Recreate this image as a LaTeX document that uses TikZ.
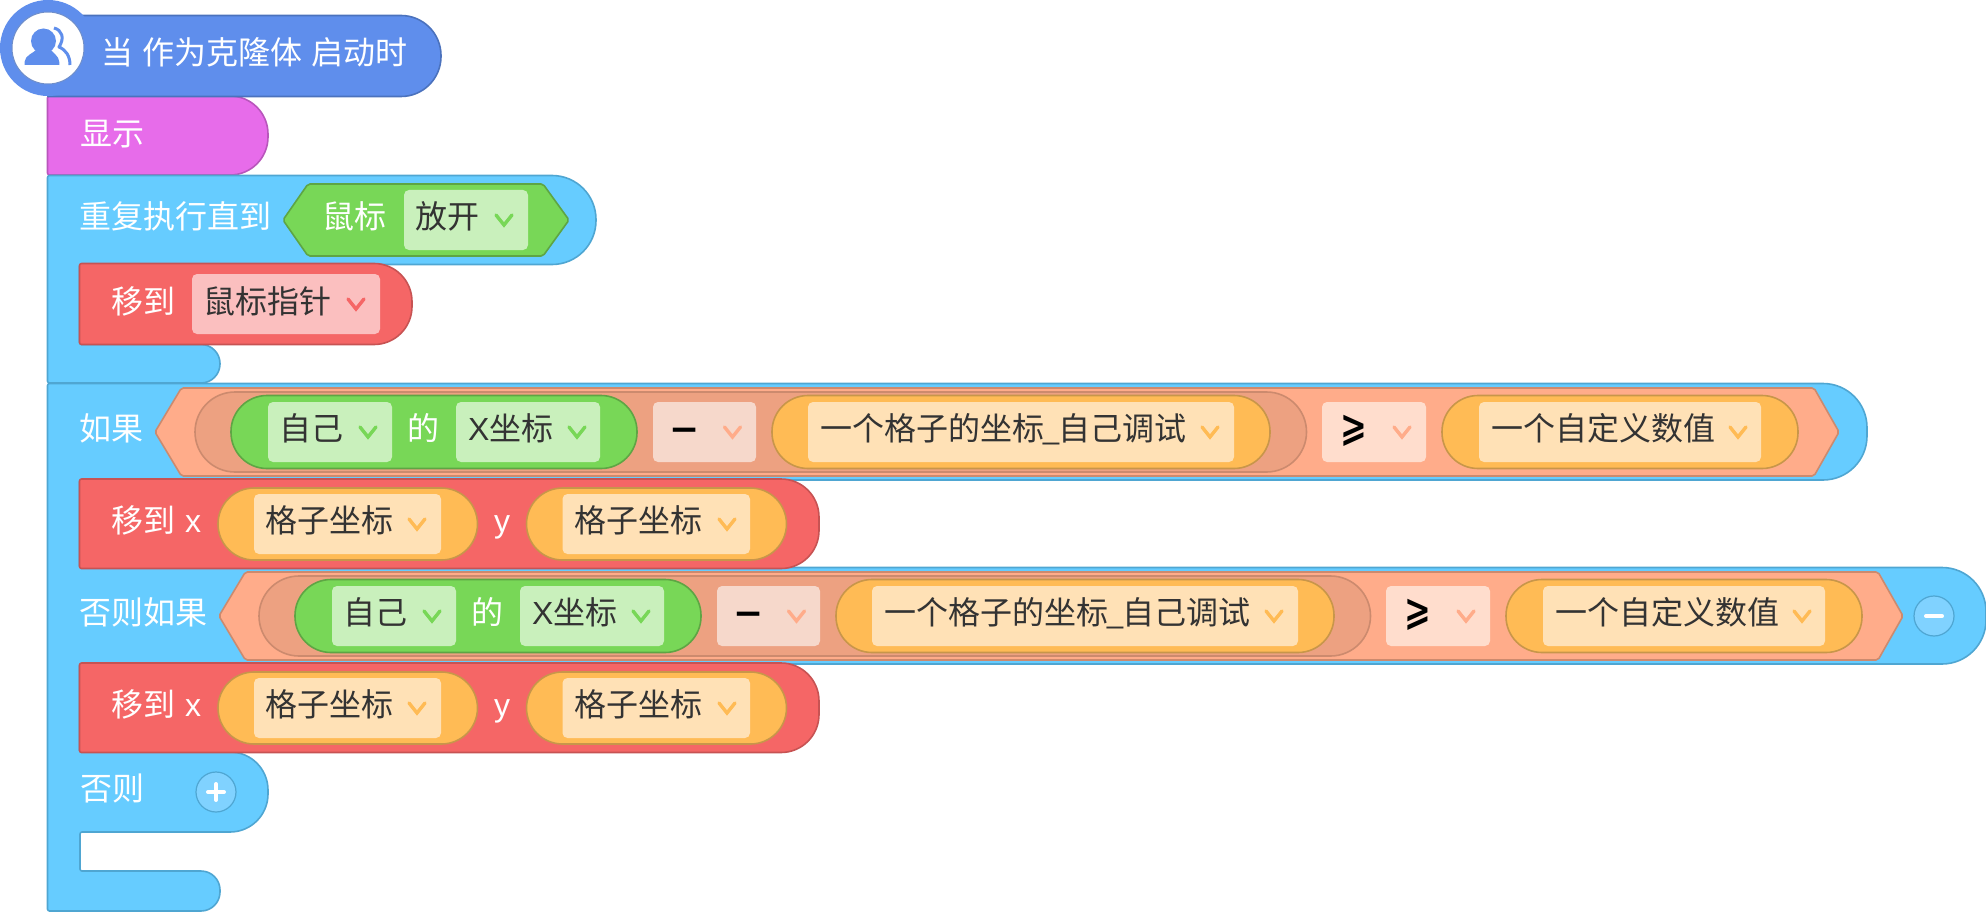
\documentclass[tikz,border=0pt]{standalone}
\usepackage{fontspec}
\setmainfont{Liberation Sans}
\newfontfamily\cjk{Noto Sans CJK SC}
\newfontfamily\symb{DejaVu Sans}
\usetikzlibrary{arrows.meta,positioning}
\definecolor{hatblue}{HTML}{5F8EEC}
\definecolor{hatline}{HTML}{4B72BD}
\definecolor{looksfill}{HTML}{E76CEA}
\definecolor{looksline}{HTML}{B956BC}
\definecolor{ctrlfill}{HTML}{66CCFF}
\definecolor{ctrlline}{HTML}{4FA6D2}
\definecolor{ctrlbtn}{HTML}{80D2FF}
\definecolor{movefill}{HTML}{F56666}
\definecolor{moveline}{HTML}{C75353}
\definecolor{movebox}{HTML}{FBBFBF}
\definecolor{sensefill}{HTML}{78D757}
\definecolor{senseline}{HTML}{5EA544}
\definecolor{sensebox}{HTML}{C9F0BC}
\definecolor{opfill}{HTML}{FFAC8A}
\definecolor{opline}{HTML}{CC8A6E}
\definecolor{opinner}{HTML}{EDA181}
\definecolor{opbox}{HTML}{FFDDCD}
\definecolor{opboxin}{HTML}{F6D8CB}
\definecolor{varfill}{HTML}{FFBB55}
\definecolor{varline}{HTML}{C8964A}
\definecolor{varbox}{HTML}{FFE1B6}
\definecolor{valtext}{HTML}{333333}
\newcommand\chev[3]{\draw[chevron,#3] (#1-8,#2-5) -- (#1,#2+5) -- (#1+8,#2-5);}
\begin{document}
\begin{tikzpicture}[x=1pt,y=-1pt,line join=round,
    block/.style={line width=1.6pt},
    pill/.style={line width=1.6pt,rounded corners=36pt},
    dropbox/.style={rounded corners=5pt},
    chevron/.style={line width=3.4pt,line cap=round,line join=miter},
    lbl/.style={anchor=base west,inner sep=0pt,text=white,font=\fontsize{32}{36}\selectfont\cjk},
    val/.style={lbl,text=valtext},
    opsign/.style={inner sep=0pt,text=black,font=\fontsize{36}{40}\selectfont\symb\bfseries}]
  \useasboundingbox (0,0) rectangle (1986,912);

  \draw[block,fill=looksfill,draw=looksline] [rounded corners=2pt] (47.5,96) -- (60,96)
    [rounded corners=38pt] -- (268,96) -- (268,175) [rounded corners=2pt] -- (47.5,175) -- cycle;

  \draw[block,fill=hatblue,draw=hatline] (48,15.5) [rounded corners=40pt] -- (441,15.5)
    -- (441,96.5) [sharp corners] -- (48,96.5) -- cycle;
  \fill[hatblue] (48,48) circle (48);
  \draw[fill=white,draw=hatline!80,line width=1pt] (48,48) circle (36);
  \fill[hatblue] (43.5,41) circle (12.5);
  \fill[hatblue] (24.5,65) -- (24.5,62) .. controls (25,55) and (34,53) .. (37,49)
    -- (50,49) .. controls (53,53) and (59,56) .. (59.3,62) -- (59.3,65) -- cycle;
  \draw[hatblue,line width=3pt] (54,28) .. controls (62,30) and (65,38) .. (59,47)
    .. controls (66,50) and (70,56) .. (70,65);
  \node[lbl] (hattext) at (101,65) {\spaceskip=9pt 当 作为克隆体 启动时};
  \node[lbl] (showtext) at (80,146) {显示};

  \draw[block,fill=ctrlfill,draw=ctrlline] [rounded corners=2pt] (47.5,175.5) -- (60,175.5)
    [rounded corners=44pt] -- (596,175.5) -- (596,264.5) [rounded corners=2pt] -- (79.5,264.5)
    -- (79.5,344.5) [rounded corners=19pt] -- (220,344.5) -- (220,383) [rounded corners=2pt]
    -- (47.5,383) -- cycle;
  \node[lbl] (untiltext) at (79,229) {重复执行直到};
  \draw[block,fill=sensefill,draw=senseline,rounded corners=2pt] (283,220) -- (308,184)
    -- (543,184) -- (569,220) -- (543,256) -- (308,256) -- cycle;
  \node[lbl] (mousetext) at (322,229) {鼠标};
  \fill[sensebox,dropbox] (404,190) rectangle (528,250);
  \node[val] (releasetext) at (415,229) {放开};
  \chev{504}{220}{sensefill}

  \draw[block,fill=movefill,draw=moveline] [rounded corners=2pt] (79.5,263.5) -- (95,263.5)
    [rounded corners=38pt] -- (412,263.5) -- (412,344.5) [rounded corners=2pt] -- (79.5,344.5) -- cycle;
  \node[lbl] (gotext) at (111,313) {移到};
  \fill[movebox,dropbox] (192,274) rectangle (380,334);
  \node[val] (pointertext) at (203,313) {鼠标指针};
  \chev{356}{304}{movefill}

  \draw[block,fill=ctrlfill,draw=ctrlline] [rounded corners=2pt] (47.5,383.5) -- (60,383.5)
    [rounded corners=44pt] -- (1867,383.5) -- (1867,480) [rounded corners=2pt] -- (79.5,480)
    -- (79.5,567.5) [rounded corners=44pt] -- (1986,567.5) -- (1986,664) [rounded corners=2pt]
    -- (79.5,664) -- (79.5,752) [rounded corners=38pt] -- (268,752) -- (268,832)
    [rounded corners=2pt] -- (80,832) -- (80,871) [rounded corners=19pt] -- (220,871)
    -- (220,911) [rounded corners=2pt] -- (47.5,911) -- cycle;
  \node[lbl] (iftext) at (79,440) {如果};
  \node[lbl] (eliftext) at (79,624) {否则如果};
  \node[lbl] (elsetext) at (80,800) {否则};

  \foreach \dx/\dy/\cn in {0/0/a,64/184/b} {
    \draw[block,fill=opfill,draw=opline,rounded corners=2pt] (155+\dx,432+\dy) -- (181.4+\dx,388+\dy)
      -- (1814+\dx,388+\dy) -- (1839+\dx,432+\dy) -- (1814+\dx,476+\dy) -- (181.4+\dx,476+\dy) -- cycle;
    \draw[pill,fill=opinner,draw=opline,rounded corners=40pt] (195+\dx,392+\dy) rectangle (1306.5+\dx,472+\dy);
    \draw[pill,fill=sensefill,draw=senseline] (231+\dx,395.5+\dy) rectangle (637+\dx,468.5+\dy);
    \fill[sensebox,dropbox] (268+\dx,402+\dy) rectangle (392+\dx,462+\dy);
    \node[val] (self\cn) at (279+\dx,440+\dy) {自己};
    \chev{368+\dx}{432+\dy}{sensefill}
    \node[lbl] (of\cn) at (407.5+\dx,440+\dy) {的};
    \fill[sensebox,dropbox] (456+\dx,402+\dy) rectangle (600+\dx,462+\dy);
    \node[val] (xpos\cn) at (468+\dx,440+\dy) {{\fontfamily{\rmdefault}\selectfont X}坐标};
    \chev{577+\dx}{432+\dy}{sensefill}
    \fill[opboxin,dropbox] (653+\dx,402+\dy) rectangle (756+\dx,462+\dy);
    \node[opsign] (minus\cn) at (684.5+\dx,435+\dy) {−};
    \chev{732.5+\dx}{432+\dy}{opfill}
    \draw[pill,fill=varfill,draw=varline] (772+\dx,395.5+\dy) rectangle (1270+\dx,468.5+\dy);
    \fill[varbox,dropbox] (808+\dx,402+\dy) rectangle (1234+\dx,462+\dy);
    \node[val] (cell\cn) at (820+\dx,440+\dy) {一个格子的坐标\kern-2pt\_\kern-2pt自己调试};
    \chev{1210+\dx}{432+\dy}{varfill}
    \fill[opbox,dropbox] (1322+\dx,402+\dy) rectangle (1426+\dx,462+\dy);
    \node[opsign,xscale=.8,font=\fontsize{40}{44}\selectfont\symb\bfseries] (geq\cn) at (1354+\dx,431+\dy) {⩾};
    \chev{1402+\dx}{432+\dy}{opfill}
    \draw[pill,fill=varfill,draw=varline] (1442+\dx,395.5+\dy) rectangle (1798+\dx,468.5+\dy);
    \fill[varbox,dropbox] (1479+\dx,402+\dy) rectangle (1761+\dx,462+\dy);
    \node[val] (custom\cn) at (1491+\dx,440+\dy) {一个自定义数值};
    \chev{1738+\dx}{432+\dy}{varfill}
  }

  \foreach \dy/\cn in {0/a,184/b} {
    \draw[block,fill=movefill,draw=moveline] [rounded corners=2pt] (79.5,479+\dy) -- (95,479+\dy)
      [rounded corners=38pt] -- (819,479+\dy) -- (819,568.5+\dy) [rounded corners=2pt] -- (79.5,568.5+\dy) -- cycle;
    \node[lbl] (move\cn) at (111,532+\dy) {移到};
    \node[lbl,font=\fontsize{32}{36}\selectfont] (xlab\cn) at (185,532+\dy) {x};
    \draw[pill,fill=varfill,draw=varline] (218,488+\dy) rectangle (477.5,560+\dy);
    \fill[varbox,dropbox] (254,494+\dy) rectangle (441,554+\dy);
    \node[val] (gridx\cn) at (265,532+\dy) {格子坐标};
    \chev{417}{524+\dy}{varfill}
    \node[lbl,font=\fontsize{32}{36}\selectfont] (ylab\cn) at (494,532+\dy) {y};
    \draw[pill,fill=varfill,draw=varline] (526.5,488+\dy) rectangle (786.5,560+\dy);
    \fill[varbox,dropbox] (562.5,494+\dy) rectangle (750,554+\dy);
    \node[val] (gridy\cn) at (574,532+\dy) {格子坐标};
    \chev{727}{524+\dy}{varfill}
  }

  \draw[fill=ctrlbtn,draw=ctrlline,line width=1.2pt] (1934,616) circle (20);
  \draw[white,line width=4pt,line cap=round] (1926,616) -- (1942,616);
  \draw[fill=ctrlbtn,draw=ctrlline,line width=1.2pt] (216,792) circle (20);
  \draw[white,line width=4pt,line cap=round] (208,792) -- (224,792);
  \draw[white,line width=4pt,line cap=round] (216,784) -- (216,800);
\end{tikzpicture}
\end{document}
